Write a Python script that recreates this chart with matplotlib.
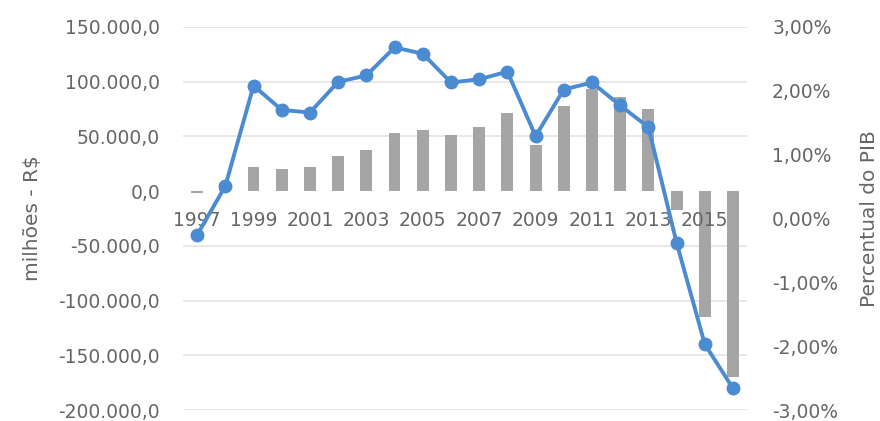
import matplotlib
matplotlib.use("Agg")
import matplotlib.pyplot as plt
from matplotlib.ticker import FuncFormatter

# Resultado primário do governo central: R$ milhões (barras) e % do PIB (linha)
anos = list(range(1997, 2017))
resultado_mi = [-1500, 5100, 22500, 20200, 22000, 32000, 38000, 53000, 55500, 51400,
                59000, 71000, 42400, 78200, 93000, 86100, 75300, -17200, -115000, -170000]
resultado_pib = [-0.26, 0.51, 2.08, 1.70, 1.66, 2.14, 2.24, 2.68, 2.58, 2.13,
                 2.18, 2.30, 1.29, 2.02, 2.13, 1.77, 1.43, -0.38, -1.97, -2.66]
ticks_mi = [-200000, -150000, -100000, -50000, 0, 50000, 100000, 150000]
ticks_pib = [-3, -2, -1, 0, 1, 2, 3]

TEXT = "#666666"
BAR = "#a5a5a5"
LINE = "#4a8bd1"
GRID = "#e4e4e4"

plt.rcParams["font.family"] = ["DejaVu Sans"]


def fmt_mi(v, _pos=None):
    s = f"{abs(v):,.1f}".replace(",", "X").replace(".", ",").replace("X", ".")
    return ("-" if v < 0 else "") + s


def fmt_pib(v, _pos=None):
    return f"{v:.2f}%".replace(".", ",")


fig = plt.figure(figsize=(8.8, 4.21), dpi=100)
ax = fig.add_axes([0.208, 0.026, 0.641, 0.910])
ax2 = ax.twinx()

x = list(range(len(anos)))
ax.bar(x, resultado_mi, width=0.42, color=BAR, zorder=1)
ax.set_ylim(-200000, 150000)
ax.set_xlim(-0.5, len(anos) - 0.5)
ax.set_yticks(ticks_mi)
ax.yaxis.set_major_formatter(FuncFormatter(fmt_mi))
for t in ticks_mi:
    if t != 0:
        ax.axhline(t, color=GRID, lw=1.2, zorder=0)

# rótulos dos anos junto ao eixo zero, um sim um não
ax.spines["bottom"].set_position(("data", 0))
ax.set_xticks(x[::2])
ax.set_xticklabels([str(a) for a in anos[::2]])
ax.tick_params(axis="x", length=0, pad=14, labelsize=13.5, colors=TEXT)
ax.tick_params(axis="y", length=0, pad=16.5, labelsize=13.5, colors=TEXT)
ax.set_ylabel("milhões - R$", fontsize=14.5, color=TEXT, labelpad=12)

ax2.plot(x, resultado_pib, color=LINE, lw=2.8, marker="o", markersize=9, zorder=3)
ax2.set_ylim(-3, 3)
ax2.set_yticks(ticks_pib)
ax2.yaxis.set_major_formatter(FuncFormatter(fmt_pib))
ax2.tick_params(axis="y", length=0, pad=18, labelsize=13.5, colors=TEXT)
ax2.set_ylabel("Percentual do PIB", fontsize=14.5, color=TEXT, labelpad=16)

for a in (ax, ax2):
    for sp in a.spines.values():
        sp.set_visible(False)

fig.savefig("out.png", dpi=100)
